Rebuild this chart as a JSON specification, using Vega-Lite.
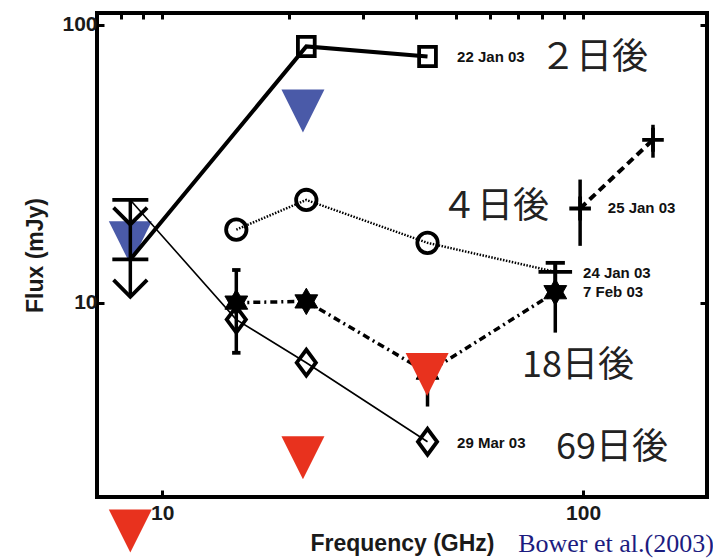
{
  "$schema": "https://vega.github.io/schema/vega-lite/v6.json",
  "width": 610,
  "height": 484,
  "autosize": {"type": "none"},
  "padding": {"left": 97, "top": 13, "right": 6, "bottom": 61},
  "background": "white",
  "datasets": {
    "tri": [
      {"f": 8.4, "S": 16.4, "c": "b"},
      {"f": 21.6, "S": 48.9, "c": "b"},
      {"f": 8.4, "S": 1.51, "c": "r"},
      {"f": 21.6, "S": 2.77, "c": "r"},
      {"f": 42.6, "S": 5.51, "c": "r"}
    ],
    "lines": [
      {"s": "22 Jan 03", "f": 8.4, "S": 14.3},
      {"s": "22 Jan 03", "f": 22, "S": 83.4},
      {"s": "22 Jan 03", "f": 42.7, "S": 76.7},
      {"s": "24 Jan 03", "f": 15, "S": 18.3},
      {"s": "24 Jan 03", "f": 22, "S": 23.4},
      {"s": "24 Jan 03", "f": 42.7, "S": 16.4},
      {"s": "24 Jan 03", "f": 85.9, "S": 12.9},
      {"s": "25 Jan 03", "f": 98.4, "S": 21.8},
      {"s": "25 Jan 03", "f": 146.6, "S": 38.5},
      {"s": "7 Feb 03", "f": 15, "S": 10.0},
      {"s": "7 Feb 03", "f": 22, "S": 10.1},
      {"s": "7 Feb 03", "f": 42.7, "S": 5.6},
      {"s": "7 Feb 03", "f": 85.9, "S": 10.9},
      {"s": "29 Mar 03", "f": 8.4, "S": 23.4},
      {"s": "29 Mar 03", "f": 15, "S": 8.69},
      {"s": "29 Mar 03", "f": 22, "S": 6.08},
      {"s": "29 Mar 03", "f": 42.7, "S": 3.16}
    ],
    "err": [
      {"f": 8.4, "lo": 10.5, "hi": 23.4},
      {"f": 15, "lo": 6.6, "hi": 13.1},
      {"f": 42.7, "lo": 4.23, "hi": 5.6},
      {"f": 85.9, "lo": 7.8, "hi": 13.9},
      {"f": 98.4, "lo": 16.0, "hi": 27.7},
      {"f": 146.6, "lo": 33.2, "hi": 43.6}
    ],
    "marks": [
      {"f": 22, "S": 83.4, "m": "sq"},
      {"f": 42.7, "S": 76.7, "m": "sq"},
      {"f": 15, "S": 18.3, "m": "ci"},
      {"f": 22, "S": 23.4, "m": "ci"},
      {"f": 42.7, "S": 16.4, "m": "ci"},
      {"f": 85.9, "S": 12.9, "m": "plw"},
      {"f": 98.4, "S": 21.8, "m": "pl"},
      {"f": 146.6, "S": 38.5, "m": "pl"},
      {"f": 15, "S": 8.69, "m": "di"},
      {"f": 22, "S": 6.08, "m": "di"},
      {"f": 42.7, "S": 3.16, "m": "di"},
      {"f": 8.4, "S": 23.4, "m": "cap"},
      {"f": 8.4, "S": 14.3, "m": "cap"},
      {"f": 8.4, "S": 10.5, "m": "chev"},
      {"f": 8.4, "S": 19.1, "m": "chev"},
      {"f": 85.9, "S": 13.9, "m": "mcap"},
      {"f": 15, "S": 13.1, "m": "scap"},
      {"f": 15, "S": 6.6, "m": "scap"}
    ],
    "stars": [
      {"f": 15, "S": 10.0},
      {"f": 22, "S": 10.1},
      {"f": 42.7, "S": 5.6},
      {"f": 85.9, "S": 10.9}
    ],
    "jp": [
      {"f": 106.2, "S": 75.5, "t": "２日後"},
      {"f": 61.8, "S": 22.1, "t": "４日後"},
      {"f": 97.3, "S": 5.93, "t": "18日後"},
      {"f": 117.2, "S": 3.01, "t": "69日後"}
    ],
    "dates": [
      {"f": 50.2, "S": 76.7, "t": "22 Jan 03"},
      {"f": 114.5, "S": 21.8, "t": "25 Jan 03"},
      {"f": 100, "S": 12.8, "t": "24 Jan 03"},
      {"f": 100, "S": 10.9, "t": "7 Feb 03"},
      {"f": 50.2, "S": 3.13, "t": "29 Mar 03"}
    ],
    "cite": [
      {"f": 70.1, "S": 1.27, "t": "Bower et al.(2003)"}
    ]
  },
  "layer": [
    {
      "data": {"name": "tri"},
      "transform": [{"filter": "datum.c == 'b'"}],
      "mark": {"type": "point", "shape": "M-1,-1L1,-1L0,1Z", "filled": true, "size": 1849, "opacity": 1, "color": "#4a5aa8", "strokeWidth": 0},
      "encoding": {
        "x": {"field": "f", "type": "quantitative", "scale": {"type": "log", "domain": [7, 197], "nice": false},
          "axis": {"orient": "bottom", "values": [10, 100], "title": "Frequency (GHz)", "tickSize": -7, "labelPadding": 12, "titleX": 305, "titleY": 53, "titleBaseline": "alphabetic", "titleAlign": "center", "labelFlush": false}},
        "y": {"field": "S", "type": "quantitative", "scale": {"type": "log", "domain": [2, 110], "nice": false},
          "axis": {"orient": "left", "values": [10, 100], "title": "Flux (mJy)", "tickSize": -7, "labelPadding": 7, "titleX": -62, "titleY": 242, "titleAngle": -90, "titleBaseline": "middle", "titleAlign": "center", "labelFlush": false}}
      }
    },
    {
      "data": {"name": "lines"},
      "transform": [{"filter": "datum.s == '22 Jan 03'"}],
      "mark": {"type": "line", "color": "black", "strokeWidth": 4},
      "encoding": {
        "x": {"field": "f", "type": "quantitative", "scale": {"type": "log", "domain": [7, 197], "nice": false},
          "axis": {"orient": "top", "values": [8, 9, 10, 20, 30, 40, 50, 60, 70, 80, 90, 100], "labels": false, "title": null, "tickSize": -6}},
        "y": {"field": "S", "type": "quantitative", "scale": {"type": "log", "domain": [2, 110], "nice": false},
          "axis": {"orient": "right", "values": [10, 100], "labels": false, "title": null, "tickSize": -7}}
      }
    },
    {
      "data": {"name": "lines"},
      "transform": [{"filter": "datum.s == '24 Jan 03'"}],
      "mark": {"type": "line", "color": "black", "strokeWidth": 2.5, "strokeDash": [1.5, 1.5]},
      "encoding": {
        "x": {"field": "f", "type": "quantitative", "scale": {"type": "log", "domain": [7, 197], "nice": false}, "axis": null},
        "y": {"field": "S", "type": "quantitative", "scale": {"type": "log", "domain": [2, 110], "nice": false}, "axis": null}
      }
    },
    {
      "data": {"name": "lines"},
      "transform": [{"filter": "datum.s == '25 Jan 03'"}],
      "mark": {"type": "line", "color": "black", "strokeWidth": 4, "strokeDash": [8, 5]},
      "encoding": {
        "x": {"field": "f", "type": "quantitative", "scale": {"type": "log", "domain": [7, 197], "nice": false}, "axis": null},
        "y": {"field": "S", "type": "quantitative", "scale": {"type": "log", "domain": [2, 110], "nice": false}, "axis": null}
      }
    },
    {
      "data": {"name": "lines"},
      "transform": [{"filter": "datum.s == '7 Feb 03'"}],
      "mark": {"type": "line", "color": "black", "strokeWidth": 3.5, "strokeDash": [7, 4, 2, 4]},
      "encoding": {
        "x": {"field": "f", "type": "quantitative", "scale": {"type": "log", "domain": [7, 197], "nice": false}, "axis": null},
        "y": {"field": "S", "type": "quantitative", "scale": {"type": "log", "domain": [2, 110], "nice": false}, "axis": null}
      }
    },
    {
      "data": {"name": "lines"},
      "transform": [{"filter": "datum.s == '29 Mar 03'"}],
      "mark": {"type": "line", "color": "black", "strokeWidth": 1.6},
      "encoding": {
        "x": {"field": "f", "type": "quantitative", "scale": {"type": "log", "domain": [7, 197], "nice": false}, "axis": null},
        "y": {"field": "S", "type": "quantitative", "scale": {"type": "log", "domain": [2, 110], "nice": false}, "axis": null}
      }
    },
    {
      "data": {"name": "err"},
      "mark": {"type": "rule", "color": "black", "strokeWidth": 3.5},
      "encoding": {
        "x": {"field": "f", "type": "quantitative", "scale": {"type": "log", "domain": [7, 197], "nice": false}, "axis": null},
        "y": {"field": "lo", "type": "quantitative", "scale": {"type": "log", "domain": [2, 110], "nice": false}, "axis": null},
        "y2": {"field": "hi"}
      }
    },
    {
      "data": {"name": "marks"},
      "mark": {"type": "point", "filled": false, "size": 576, "stroke": "black", "strokeWidth": 3.8, "opacity": 1},
      "encoding": {
        "x": {"field": "f", "type": "quantitative", "scale": {"type": "log", "domain": [7, 197], "nice": false}, "axis": null},
        "y": {"field": "S", "type": "quantitative", "scale": {"type": "log", "domain": [2, 110], "nice": false}, "axis": null},
        "shape": {"field": "m", "type": "nominal", "legend": null,
          "scale": {"domain": ["sq", "ci", "di", "pl", "plw", "cap", "mcap", "scap", "chev"],
            "range": [
              "M-0.7,-0.8L0.7,-0.8L0.7,0.8L-0.7,0.8Z",
              "M0.85,0A0.85,0.85 0 1,1 -0.85,0A0.85,0.85 0 1,1 0.85,0Z",
              "M0,-1.08L0.8,0L0,1.08L-0.8,0Z",
              "M-0.9,0L0.9,0M0,-1L0,1",
              "M-1.4,0L1.4,0M0,-0.9L0,0.9",
              "M-1.5,0L1.5,0",
              "M-0.8,0L0.8,0",
              "M-0.35,0L0.35,0",
              "M-1.4,-1.4L0,0L1.4,-1.4"
            ]}}
      }
    },
    {
      "data": {"name": "stars"},
      "mark": {"type": "point", "shape": "M0,-1.1L0.95,0.55L-0.95,0.55ZM0,1.1L-0.95,-0.55L0.95,-0.55Z", "filled": true, "size": 576, "fill": "black", "stroke": "black", "strokeWidth": 1, "opacity": 1},
      "encoding": {
        "x": {"field": "f", "type": "quantitative", "scale": {"type": "log", "domain": [7, 197], "nice": false}, "axis": null},
        "y": {"field": "S", "type": "quantitative", "scale": {"type": "log", "domain": [2, 110], "nice": false}, "axis": null}
      }
    },
    {
      "data": {"name": "tri"},
      "transform": [{"filter": "datum.c == 'r'"}],
      "mark": {"type": "point", "shape": "M-1,-1L1,-1L0,1Z", "filled": true, "size": 1849, "opacity": 1, "color": "#e8321e", "strokeWidth": 0},
      "encoding": {
        "x": {"field": "f", "type": "quantitative", "scale": {"type": "log", "domain": [7, 197], "nice": false}, "axis": null},
        "y": {"field": "S", "type": "quantitative", "scale": {"type": "log", "domain": [2, 110], "nice": false}, "axis": null}
      }
    },
    {
      "data": {"name": "jp"},
      "mark": {"type": "text", "font": "Noto Sans CJK JP", "fontSize": 36, "color": "#222222", "align": "center", "baseline": "middle"},
      "encoding": {
        "x": {"field": "f", "type": "quantitative", "scale": {"type": "log", "domain": [7, 197], "nice": false}, "axis": null},
        "y": {"field": "S", "type": "quantitative", "scale": {"type": "log", "domain": [2, 110], "nice": false}, "axis": null},
        "text": {"field": "t"}
      }
    },
    {
      "data": {"name": "dates"},
      "mark": {"type": "text", "font": "Liberation Sans", "fontWeight": "bold", "fontSize": 15, "color": "#111111", "align": "left", "baseline": "middle"},
      "encoding": {
        "x": {"field": "f", "type": "quantitative", "scale": {"type": "log", "domain": [7, 197], "nice": false}, "axis": null},
        "y": {"field": "S", "type": "quantitative", "scale": {"type": "log", "domain": [2, 110], "nice": false}, "axis": null},
        "text": {"field": "t"}
      }
    },
    {
      "data": {"name": "cite"},
      "mark": {"type": "text", "font": "Liberation Serif", "fontSize": 26, "color": "#1c1c80", "align": "left", "baseline": "alphabetic"},
      "encoding": {
        "x": {"field": "f", "type": "quantitative", "scale": {"type": "log", "domain": [7, 197], "nice": false}, "axis": null},
        "y": {"field": "S", "type": "quantitative", "scale": {"type": "log", "domain": [2, 110], "nice": false}, "axis": null},
        "text": {"field": "t"}
      }
    }
  ],
  "resolve": {"axis": {"x": "independent", "y": "independent"}},
  "config": {
    "view": {"stroke": "black", "strokeWidth": 4},
    "axis": {
      "domain": false,
      "grid": false,
      "ticks": true,
      "tickColor": "black",
      "tickWidth": 3,
      "labelFont": "Liberation Sans",
      "labelFontSize": 21,
      "labelFontWeight": "bold",
      "labelColor": "#1a1a1a",
      "titleFont": "Liberation Sans",
      "titleFontSize": 23,
      "titleFontWeight": "bold",
      "titleColor": "#1a1a1a"
    }
  }
}
